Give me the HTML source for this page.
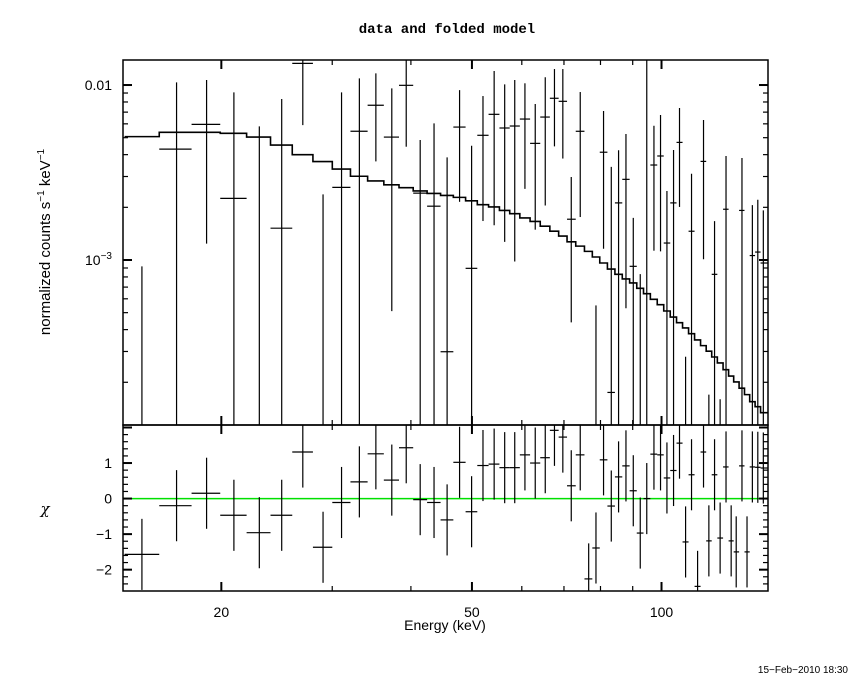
<!DOCTYPE html>
<html><head><meta charset="utf-8"><style>
html,body{margin:0;padding:0;background:#fff;width:850px;height:680px;overflow:hidden;}
svg{display:block;}
text{font-family:"Liberation Sans",sans-serif;fill:#000;}
</style></head><body>
<svg id="chart" width="850" height="680" viewBox="0 0 850 680" xmlns="http://www.w3.org/2000/svg">
<defs>
<clipPath id="clipTop"><rect x="123" y="60" width="645" height="365"/></clipPath>
<clipPath id="clipBot"><rect x="123" y="425" width="645" height="166"/></clipPath>
</defs>
<text x="447" y="33" text-anchor="middle" style="font-family:'Liberation Mono',monospace;font-weight:bold;font-size:14px;">data and folded model</text>
<text transform="translate(50,242) rotate(-90)" text-anchor="middle" font-size="15">normalized counts s<tspan dy="-6" font-size="10">−1</tspan><tspan dy="6"> keV</tspan><tspan dy="-6" font-size="10">−1</tspan></text>
<text x="45" y="514" text-anchor="middle" font-size="15" style="font-family:'DejaVu Serif',serif;font-style:italic">χ</text>
<text x="445" y="630" text-anchor="middle" font-size="14">Energy (keV)</text>
<text x="848" y="673" text-anchor="end" font-size="10">15−Feb−2010 18:30</text>
<g id="gTop"></g>
<g id="gBot"></g>
</svg>
<script>
const energies = [14.96,16.98,18.95,20.94,22.98,24.94,26.94,29.01,31.04,33.13,35.19,37.30,39.32,41.38,43.53,45.66,47.79,49.94,52.06,54.23,56.36,58.47,60.69,63.02,65.37,67.61,69.71,71.89,74.29,76.62,78.69,80.90,83.22,85.47,87.81,90.19,92.52,94.75,97.27,99.64,102.0,104.5,106.8,109.2,111.6,114.1,116.6,118.9,121.4,123.9,126.6,129.0,131.4,134.2,136.7,139.4,142.2,145.1];
const modelVals = [0.00507,0.00537,0.00537,0.00530,0.00504,0.00454,0.00400,0.00365,0.00331,0.00301,0.00283,0.00269,0.00259,0.00248,0.00240,0.00234,0.00228,0.00218,0.00207,0.00201,0.00192,0.00184,0.00174,0.00166,0.00156,0.00146,0.00137,0.00127,0.00120,0.00112,0.00104,0.000961,0.000888,0.000828,0.000779,0.000739,0.000689,0.000642,0.000596,0.000555,0.000511,0.000472,0.000438,0.000409,0.000379,0.000349,0.000324,0.000301,0.000279,0.000258,0.000236,0.000217,0.000201,0.000185,0.000170,0.000155,0.000145,0.000134];
const dataVals = [-0.00635,0.00430,0.00596,0.00225,-0.0021,0.00152,0.0133,-0.00109,0.0026,0.00544,0.00766,0.00504,0.00996,0.00241,0.00203,0.000299,0.00575,0.000896,0.00516,0.0068,0.00568,0.00583,0.00639,0.00464,0.00656,0.0084,0.00807,0.00171,0.00544,-0.00071,-0.00072,0.00413,0.000175,0.00212,0.00289,0.00092,-0.0006,0.000642,0.00349,0.00393,0.00125,0.00212,0.0047,-0.00032,0.00146,-0.00039,0.00366,-0.00053,0.000828,-0.00074,0.00195,-0.00073,-0.0007,0.00192,-0.00073,0.00106,0.00111,0.000961];
const dataErr = [0.00727,0.00606,0.00472,0.00683,0.0079,0.0068,0.0074,0.00346,0.00648,0.00548,0.004,0.00453,0.00552,0.00244,0.00401,0.00356,0.0036,0.0036,0.00349,0.00522,0.00441,0.00485,0.00384,0.00315,0.00451,0.00394,0.00427,0.00127,0.00368,0.00081,0.00127,0.00297,0.00323,0.00212,0.00236,0.00082,0.00143,0.014,0.00236,0.00281,0.00123,0.00213,0.00269,0.0006,0.00165,0.0003,0.00265,0.0007,0.00084,0.0009,0.00198,0.0008,0.0006,0.00191,0.0006,0.001,0.0011,0.00096];
const chiVals = [-1.57,-0.2,0.15,-0.47,-0.96,-0.47,1.31,-1.37,-0.11,0.47,1.26,0.52,1.43,-0.03,-0.11,-0.6,1.02,-0.37,0.93,0.97,0.87,0.87,1.23,1.0,1.15,1.92,1.73,0.36,1.23,-2.26,-1.39,1.09,-0.21,0.61,0.92,0.22,-0.97,0.0,1.25,1.23,0.58,0.79,1.56,-1.22,0.67,-2.47,1.31,-1.19,0.67,-1.11,0.89,-1.19,-1.5,0.92,-1.5,0.89,0.88,0.86];
const xTickLabels = ["20","50","100"];
const xTickValues = [20,50,100];
const yTickLabels = ["0.01","10"];
const yTickValues = [0.01,0.001];
const chiTickValues = [1,0,-1,-2];

const L=123,R=768,T=60,B=425,B2=591;
const xMin=13.96,xMax=147.6, yMin=1.14e-4,yMax=0.0139, cMin=-2.6,cMax=2.07;
const clamp=(v,a,b)=>Math.max(a,Math.min(b,v));
const X=e=>L+(Math.log10(e)-Math.log10(xMin))/(Math.log10(xMax)-Math.log10(xMin))*(R-L);
const Y=v=>B-(Math.log10(v)-Math.log10(yMin))/(Math.log10(yMax)-Math.log10(yMin))*(B-T);
const YV=v=>v>0?clamp(Y(v),T-5,B+5):B+5;
const C=v=>B2-(v-cMin)/(cMax-cMin)*(B2-B);
const CV=v=>clamp(C(v),B-3,B2+3);
const NS="http://www.w3.org/2000/svg";
function mk(tag,attrs,parent){const el=document.createElementNS(NS,tag);for(const k in attrs)el.setAttribute(k,attrs[k]);parent.appendChild(el);return el;}
const gTop=document.getElementById('gTop'), gBot=document.getElementById('gBot');

const lo=[],hi=[];
for(let i=0;i<energies.length;i++){
  hi.push(i<energies.length-1?Math.sqrt(energies[i]*energies[i+1]):xMax);
}
for(let i=0;i<energies.length;i++){
  lo.push(i>0?hi[i-1]:energies[0]*energies[0]/hi[0]);
}

const topClip=mk('g',{'clip-path':'url(#clipTop)'},gTop);
const botClip=mk('g',{'clip-path':'url(#clipBot)'},gBot);

for(let i=0;i<energies.length;i++){
  const x=X(energies[i]);
  const up=dataVals[i]+dataErr[i], dn=dataVals[i]-dataErr[i];
  const yc=YV(dataVals[i]);
  const l1=mk('line',{x1:x,x2:x,y1:YV(up),y2:YV(dn),stroke:'#000','stroke-width':1.2},topClip);
  
  
  const l2=mk('line',{x1:X(lo[i]),x2:X(hi[i]),y1:yc,y2:yc,stroke:'#000','stroke-width':1.2},topClip);
  
  
}
let d='';
for(let i=0;i<energies.length;i++){
  const y=Y(modelVals[i]);
  d+=(i===0?'M':'L')+X(lo[i])+','+y+'L'+X(hi[i])+','+y;
}
const mp=mk('path',{d:d,fill:'none',stroke:'#000','stroke-width':1.6},topClip);



const zl=mk('line',{x1:L,x2:R,y1:C(0),y2:C(0),stroke:'#00e000','stroke-width':1.5},botClip);


for(let i=0;i<energies.length;i++){
  const x=X(energies[i]),yc=CV(chiVals[i]);
  const a=mk('line',{x1:x,x2:x,y1:CV(chiVals[i]+1),y2:CV(chiVals[i]-1),stroke:'#000','stroke-width':1.2},botClip);
  
  
  const b=mk('line',{x1:X(lo[i]),x2:X(hi[i]),y1:yc,y2:yc,stroke:'#000','stroke-width':1.2},botClip);
  
  
}

const f1=mk('rect',{x:L,y:T,width:R-L,height:B-T,fill:'none',stroke:'#000','stroke-width':1.5},gTop);


const f2=mk('rect',{x:L,y:B,width:R-L,height:B2-B,fill:'none',stroke:'#000','stroke-width':1.5},gBot);



const xt=[];
for(let dec=10;dec<=100;dec*=10)for(let k=1;k<10;k++){const v=k*dec;if(v>xMin&&v<xMax)xt.push(v);}
xt.forEach(v=>{
  const x=X(v),maj=xTickValues.includes(v),len=maj?9:5;
  [[T,1],[B,-1],[B,1],[B2,-1]].forEach(([y0,s])=>{
    const t=mk('line',{x1:x,x2:x,y1:y0,y2:y0+s*len,stroke:'#000','stroke-width':maj?2:1.2},gTop);
    
    
  });
});
xTickValues.forEach((v,i)=>{
  const t=mk('text',{x:X(v),y:617,'text-anchor':'middle','font-size':14},gBot);
  t.textContent=xTickLabels[i];
  
  
});
const yt=[];
for(let dec=1e-4;dec<0.02;dec*=10)for(let k=1;k<10;k++){const v=k*dec;if(v>yMin&&v<yMax)yt.push(v);}
yt.forEach(v=>{
  const y=Y(v),maj=Math.abs(Math.log10(v)-Math.round(Math.log10(v)))<1e-6,len=maj?9:5;
  [[L,1],[R,-1]].forEach(([x0,s])=>{
    const t=mk('line',{x1:x0,x2:x0+s*len,y1:y,y2:y,stroke:'#000','stroke-width':maj?2:1.2},gTop);
    
    
  });
});
const yl1=mk('text',{x:112,y:Y(yTickValues[0])+5,'text-anchor':'end','font-size':14},gTop);
yl1.textContent=yTickLabels[0];


const yl2=mk('text',{x:112,y:Y(yTickValues[1])+5,'text-anchor':'end','font-size':14},gTop);
yl2.innerHTML=yTickLabels[1]+'<tspan dy="-6" font-size="10">−3</tspan>';


for(let k=-13;k<=10;k++){
  const v=k*0.2;if(v<=cMin||v>=cMax)continue;
  const maj=Math.abs(v-Math.round(v))<1e-6,len=maj?9:5,y=C(v);
  [[L,1],[R,-1]].forEach(([x0,s])=>{
    const t=mk('line',{x1:x0,x2:x0+s*len,y1:y,y2:y,stroke:'#000','stroke-width':maj?2:1.2},gBot);
    
    
  });
}
chiTickValues.forEach(v=>{
  const t=mk('text',{x:112,y:C(v)+5,'text-anchor':'end','font-size':14},gBot);
  t.textContent=v<0?'−'+Math.abs(v):String(v);
  
  
});
</script>
</body></html>
